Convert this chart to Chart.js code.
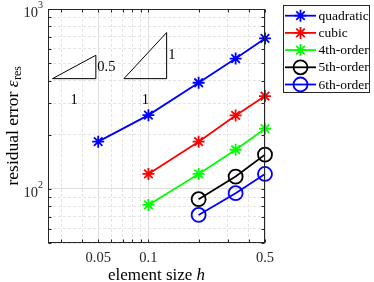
<!DOCTYPE html>
<html>
<head>
<meta charset="utf-8">
<script src="https://cdn.jsdelivr.net/npm/chart.js@4.4.1/dist/chart.umd.min.js"></script>
<style>
html,body{margin:0;padding:0;background:#fff;}
#wrap{width:374px;height:282px;position:relative;}
</style>
</head>
<body>
<div id="wrap"><canvas id="chart"></canvas></div>
<script>
// -------- data --------
const hQuad = [0.05, 0.1, 0.2, 1/3, 0.5];
const errQuad = [183, 257, 389, 530, 686];
const hCubic = [0.1, 0.2, 1/3, 0.5];
const errCubic = [121, 183, 256, 328];
const h4th = [0.1, 0.2, 1/3, 0.5];
const err4th = [81.4, 121, 165, 216];
const h5th = [0.2, 1/3, 0.5];
const err5th = [87.6, 117, 155];
const h6th = [0.2, 1/3, 0.5];
const err6th = [71.6, 94.6, 121];

const seriesNames = ['quadratic', 'cubic', '4th-order', '5th-order', '6th-order'];
const seriesColors = ['#0000ff', '#ff0000', '#00ff00', '#000000', '#0000ff'];
const seriesMarkers = ['star', 'star', 'star', 'circle', 'circle'];
const seriesH = [hQuad, hCubic, h4th, h5th, h6th];
const seriesErr = [errQuad, errCubic, err4th, err5th, err6th];

// axis ticks
const xGridTicks = [0.03, 0.04, 0.05, 0.06, 0.07, 0.08, 0.09, 0.1, 0.2, 0.3, 0.4, 0.5];
const xTickValues = [0.05, 0.1, 0.5];
const xTickLabels = ['0.05', '0.1', '0.5'];
const yGridTicks = [50, 60, 70, 80, 90, 100, 200, 300, 400, 500, 600, 700, 800, 900, 1000];
const yTickValues = [100, 1000];
const yTickExp = ['2', '3'];

// slope triangles: base h range, base error, slope
const triH = [[0.0266, 0.0484], [0.0713, 0.1286]];
const triErr = [410, 410];
const triSlope = [0.5, 1];
const triLabel = ['0.5', '1'];

const SERIF = '"Liberation Serif", "Times New Roman", serif';

// --------- datasets ---------
const datasets = seriesNames.map((name, i) => ({
    label: name,
    data: seriesH[i].map((h, j) => ({x: h, y: seriesErr[i][j]})),
    borderColor: seriesColors[i],
    backgroundColor: seriesColors[i],
    borderWidth: 1.8,
    pointStyle: seriesMarkers[i],
    pointRadius: seriesMarkers[i] === 'circle' ? 7 : 6,
    pointBorderWidth: 1.8,
    pointBorderColor: seriesColors[i],
    pointBackgroundColor: 'rgba(0,0,0,0)',
    tension: 0,
    clip: false
}));

triH.forEach((hr, i) => {
    const top = triErr[i] * Math.pow(hr[1] / hr[0], triSlope[i]);
    datasets.push({
        label: 'tri' + i,
        data: [{x: hr[0], y: triErr[i]}, {x: hr[1], y: triErr[i]}, {x: hr[1], y: top}, {x: hr[0], y: triErr[i]}],
        borderColor: '#000',
        borderWidth: 1,
        pointRadius: 0,
        tension: 0,
        clip: false
    });
});

// --------- drawing helpers ---------
function drawMarker(ctx, style, x, y, r){
    ctx.beginPath();
    if(style === 'circle'){ ctx.arc(x, y, r, 0, Math.PI * 2); }
    else {
        for(let k = 0; k < 4; k++){
            const a = k * Math.PI / 4;
            ctx.moveTo(x - r * Math.cos(a), y - r * Math.sin(a));
            ctx.lineTo(x + r * Math.cos(a), y + r * Math.sin(a));
        }
    }
    ctx.stroke();
}

const decorations = {
    id: 'decorations',
    afterDraw(chart){
        const ctx = chart.ctx;
        const {left, right, top, bottom} = chart.chartArea;
        const xs = chart.scales.x, ys = chart.scales.y;
        ctx.save();

        // box + inward ticks
        const L = Math.round(left) + 0.5, R = Math.round(right) - 0.5;
        const T = Math.round(top) + 0.5, B = Math.round(bottom) - 0.5;
        ctx.strokeStyle = '#262626';
        ctx.lineWidth = 1;
        ctx.strokeRect(L, T, R - L, B - T);
        ctx.beginPath();
        xGridTicks.forEach(v => {
            const px = Math.round(xs.getPixelForValue(v)) + 0.5;
            ctx.moveTo(px, B); ctx.lineTo(px, B - 3);
            ctx.moveTo(px, T); ctx.lineTo(px, T + 3);
        });
        yGridTicks.forEach(v => {
            const py = Math.round(ys.getPixelForValue(v)) + 0.5;
            ctx.moveTo(L, py); ctx.lineTo(L + 3, py);
            ctx.moveTo(R, py); ctx.lineTo(R - 3, py);
        });
        ctx.stroke();

        // tick labels
        ctx.fillStyle = '#262626';
        ctx.font = '14.5px ' + SERIF;
        ctx.textAlign = 'center';
        ctx.textBaseline = 'middle';
        xTickValues.forEach((v, i) => ctx.fillText(xTickLabels[i], xs.getPixelForValue(v), 258));
        yTickValues.forEach((v, i) => {
            const py = ys.getPixelForValue(v);
            ctx.font = '10px ' + SERIF;
            ctx.textAlign = 'right';
            ctx.textBaseline = 'alphabetic';
            const ew = ctx.measureText(yTickExp[i]).width;
            ctx.fillText(yTickExp[i], 43, py - 1);
            ctx.font = '14.5px ' + SERIF;
            ctx.fillText('10', 43 - ew, py + 8);
        });

        // axis titles
        ctx.fillStyle = '#000';
        ctx.textBaseline = 'alphabetic';
        ctx.textAlign = 'left';
        const xa = 'element size ';
        ctx.font = 'italic 17px ' + SERIF;
        const hw = ctx.measureText('h').width;
        ctx.font = '17px ' + SERIF;
        const xw = ctx.measureText(xa).width;
        let sx = (left + right) / 2 - (xw + hw) / 2;
        ctx.fillText(xa, sx, 280);
        ctx.font = 'italic 17px ' + SERIF;
        ctx.fillText('h', sx + xw, 280);

        ctx.save();
        ctx.translate(18, (top + bottom) / 2);
        ctx.rotate(-Math.PI / 2);
        const ya = 'residual error ';
        ctx.font = '17.5px ' + SERIF;
        const yw = ctx.measureText(ya).width;
        ctx.font = 'italic 17.5px ' + SERIF;
        const ew = ctx.measureText('\u03b5').width;
        ctx.font = '12px ' + SERIF;
        const rw = ctx.measureText('res').width;
        let sy = -(yw + ew + rw) / 2;
        ctx.font = '17.5px ' + SERIF;
        ctx.fillText(ya, sy, 0);
        ctx.font = 'italic 17.5px ' + SERIF;
        ctx.fillText('\u03b5', sy + yw, 0);
        ctx.font = '12px ' + SERIF;
        ctx.fillText('res', sy + yw + ew + 0.5, 3);
        ctx.restore();

        // triangle labels
        ctx.font = '14.5px ' + SERIF;
        ctx.textBaseline = 'middle';
        triH.forEach((hr, i) => {
            const topErr = triErr[i] * Math.pow(hr[1] / hr[0], triSlope[i]);
            const xr = xs.getPixelForValue(hr[1]);
            const yb = ys.getPixelForValue(triErr[i]);
            const yt = ys.getPixelForValue(topErr);
            ctx.textAlign = 'left';
            ctx.fillText(triLabel[i], xr + 1.5, (yb + yt) / 2);
            ctx.textAlign = 'center';
            const xm = xs.getPixelForValue(Math.sqrt(hr[0] * hr[1]));
            ctx.fillText('1', xm, yb + 22);
        });

        // legend
        const lx = 283.5, ly = 5.5, lw = 86, lh = 87;
        ctx.fillStyle = '#fff';
        ctx.fillRect(lx, ly, lw, lh);
        ctx.strokeStyle = '#262626';
        ctx.lineWidth = 1;
        ctx.strokeRect(lx, ly, lw, lh);
        ctx.font = '13.5px ' + SERIF;
        ctx.textAlign = 'left';
        ctx.textBaseline = 'middle';
        seriesNames.forEach((name, i) => {
            const cy = 15.7 + i * 17.2;
            ctx.strokeStyle = seriesColors[i];
            ctx.lineWidth = 1.8;
            ctx.beginPath();
            ctx.moveTo(285, cy); ctx.lineTo(316, cy);
            ctx.stroke();
            drawMarker(ctx, seriesMarkers[i], 300.5, cy, seriesMarkers[i] === 'circle' ? 7 : 6);
            ctx.fillStyle = '#000';
            ctx.fillText(name, 318.5, cy + 0.5);
        });
        ctx.restore();
    }
};

const isMajorX = v => xTickValues.some(t => Math.abs(t - v) < 1e-9);
const isMajorY = v => yTickValues.some(t => Math.abs(t - v) < 1e-9);

new Chart(document.getElementById('chart'), {
    type: 'line',
    data: {datasets: datasets},
    options: {
        responsive: true,
        maintainAspectRatio: false,
        animation: false,
        devicePixelRatio: 1,
        layout: {padding: {left: 48, right: 109, top: 9, bottom: 39}},
        plugins: {legend: {display: false}, tooltip: {enabled: false}},
        scales: {
            x: {
                type: 'logarithmic', min: 0.025, max: 0.5,
                afterBuildTicks: s => { s.ticks = xGridTicks.map(v => ({value: v})); },
                ticks: {display: false},
                grid: {
                    color: c => (c.tick && isMajorX(c.tick.value)) ? '#dedede' : '#e4e4e4',
                    lineWidth: 1, drawTicks: false
                },
                border: {display: false, dash: c => (c.tick && isMajorX(c.tick.value)) ? [] : [3, 2]}
            },
            y: {
                type: 'logarithmic', min: 50, max: 1000,
                afterBuildTicks: s => { s.ticks = yGridTicks.map(v => ({value: v})); },
                ticks: {display: false},
                grid: {
                    color: c => (c.tick && isMajorY(c.tick.value)) ? '#dedede' : '#e4e4e4',
                    lineWidth: 1, drawTicks: false
                },
                border: {display: false, dash: c => (c.tick && isMajorY(c.tick.value)) ? [] : [3, 2]}
            }
        }
    },
    plugins: [decorations]
});
</script>
</body>
</html>
